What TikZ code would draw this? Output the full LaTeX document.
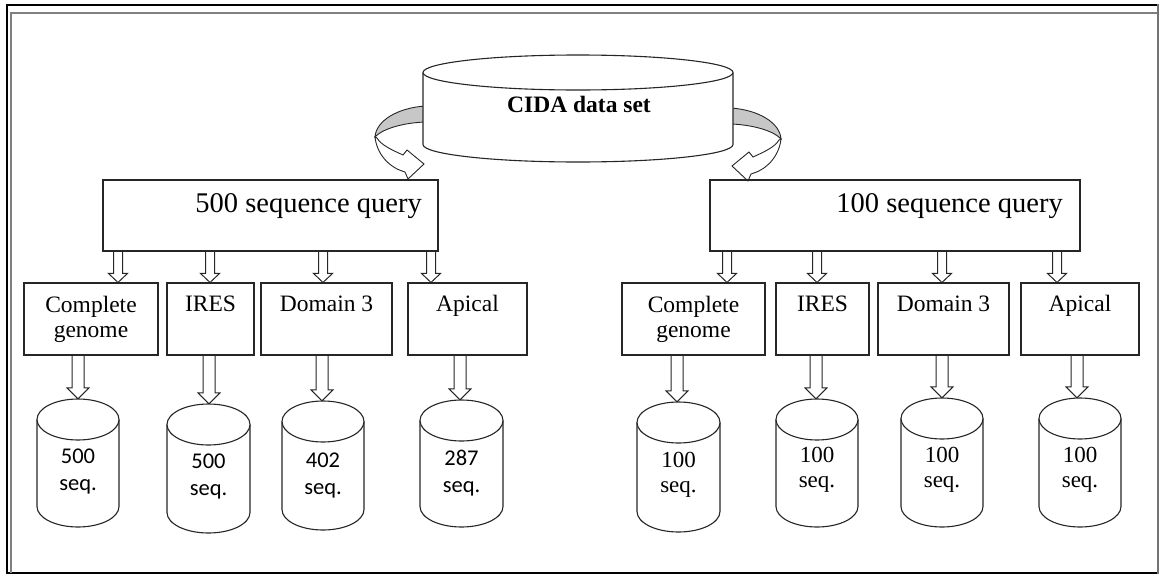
\documentclass[tikz,border=0pt]{standalone}
\usepackage{fontspec}
\setmainfont{Liberation Serif}
\newfontfamily\carlitofont{Carlito}
\usetikzlibrary{calc}
\pgfdeclarelayer{bg}
\pgfsetlayers{bg,main}
\newcommand\drum[6]{% name, cx, ytop, ybot, half width, ry
  \node[inner sep=0pt, minimum width={2*#5pt}, minimum height={#4pt-#3pt}] (#1) at ({#2},{(#3+#4)/2}) {};
  \draw[cylline] ({#2-#5},{#3+#6}) -- ({#2-#5},{#4-#6}) arc[start angle=180,end angle=0,x radius=#5,y radius=#6] -- ({#2+#5},{#3+#6});
  \draw[cylline] ({#2},{#3+#6}) ellipse [x radius=#5, y radius=#6];
}
\newcommand\barrow[6]{% x, from, to, shaft half, head half, head length
  \begin{pgfonlayer}{bg}
  \draw[blk] let \p1=(#1,0 |- #2), \p2=(#1,0 |- #3) in
    (\x1-#4pt,\y1) -- (\x1-#4pt,\y2+#6pt) -- (\x1-#5pt,\y2+#6pt) -- (\x1,\y2)
    -- (\x1+#5pt,\y2+#6pt) -- (\x1+#4pt,\y2+#6pt) -- (\x1+#4pt,\y1);
  \end{pgfonlayer}
}
\begin{document}
\begin{tikzpicture}[x=1pt,y=-1pt,
  box/.style={draw=black!85, line width=1.1pt, rectangle, inner sep=0pt},
  blk/.style={draw=black!85, line width=1pt, fill=white},
  cylline/.style={draw=black!85, line width=1.1pt, fill=white},
  ribbonback/.style={draw=black!85, line width=0.9pt, fill=black!22},
  ribbonfront/.style={draw=black!85, line width=0.9pt, fill=white},
  bigtxt/.style={font=\fontsize{28.5}{30}\selectfont, inner sep=0pt, anchor=base east},
  smalltxt/.style={font=\fontsize{23.5}{25}\selectfont, inner sep=0pt, anchor=base},
  seqsans/.style={font=\carlitofont\fontsize{22.5}{27}\selectfont, inner sep=0pt, anchor=base},
  seqserif/.style={font=\fontsize{23}{25.5}\selectfont, inner sep=0pt, anchor=base},
  toptxt/.style={font=\bfseries\fontsize{23.5}{25}\selectfont, inner sep=0pt, anchor=base}
]
\useasboundingbox (0,0) rectangle (1160,576);

% frame
\draw[line width=2.8pt] (1158,5) -- (7,5) -- (7,573) -- (1158,573);
\draw[black!50, line width=1.3pt] (11,573) -- (11,13) -- (1158,13);
\draw[black!55, line width=1.5pt] (1158,4) -- (1158,574);

% curved arrows from the data set
\draw[ribbonback] (425,106) .. controls (397,108) and (376,121) .. (375,137)
  .. controls (381,130) and (400,123) .. (425,122) -- cycle;
\draw[ribbonfront] (375,137) .. controls (377,155) and (390,168) .. (405,172)
  -- (408,179) -- (424,164) -- (407,150) -- (403,155)
  .. controls (392,150) and (381,145) .. (377,138) -- cycle;
\begin{scope}[shift={(1156,2)}, xscale=-1]
\draw[ribbonback] (425,106) .. controls (397,108) and (376,121) .. (375,137)
  .. controls (381,130) and (400,123) .. (425,122) -- cycle;
\draw[ribbonfront] (375,137) .. controls (377,155) and (390,168) .. (405,172)
  -- (408,179) -- (424,164) -- (407,150) -- (403,155)
  .. controls (392,150) and (381,145) .. (377,138) -- cycle;
\end{scope}

% CIDA data set
\drum{cida}{578}{55}{162}{155}{17.5}
\node[toptxt] (cidatxt) at (579,112) {CIDA data set};

% query boxes
\node[box, minimum width=335pt, minimum height=71pt] (q500) at (270.5,215.5) {};
\node[bigtxt] (q500t) at (422,212) {500 sequence query};
\node[box, minimum width=370pt, minimum height=71pt] (q100) at (895,215.5) {};
\node[bigtxt] (q100t) at (1063,212) {100 sequence query};

% left small boxes
\node[box, minimum width=134pt, minimum height=72pt] (l1) at (91,319) {};
\node[box, minimum width=87pt,  minimum height=72pt] (l2) at (210.5,319) {};
\node[box, minimum width=131pt, minimum height=72pt] (l3) at (326.5,319) {};
\node[box, minimum width=119pt, minimum height=72pt] (l4) at (467.5,319) {};
\node[smalltxt] (l1t) at (91,312) {\begin{tabular}[t]{@{}c@{}}Complete\\genome\end{tabular}};
\node[smalltxt] (l2t) at (210.5,311.5) {IRES};
\node[smalltxt] (l3t) at (326.5,311.5) {Domain 3};
\node[smalltxt] (l4t) at (467.5,311.5) {Apical};

% right small boxes
\node[box, minimum width=143pt, minimum height=72pt] (r1) at (693.5,319) {};
\node[box, minimum width=93pt,  minimum height=72pt] (r2) at (822.5,319) {};
\node[box, minimum width=131pt, minimum height=72pt] (r3) at (943.5,319) {};
\node[box, minimum width=118pt, minimum height=72pt] (r4) at (1080,319) {};
\node[smalltxt] (r1t) at (693.5,312) {\begin{tabular}[t]{@{}c@{}}Complete\\genome\end{tabular}};
\node[smalltxt] (r2t) at (822.5,311.5) {IRES};
\node[smalltxt] (r3t) at (943.5,311.5) {Domain 3};
\node[smalltxt] (r4t) at (1080,311.5) {Apical};

% cylinders
\drum{c1}{78}{399}{527}{41}{20.5}
\drum{c2}{208.5}{404}{533}{41.5}{20.5}
\drum{c3}{323}{401}{530}{41}{20.5}
\drum{c4}{461.5}{400}{527}{41.5}{20.5}
\drum{d1}{678.5}{402}{532}{41.5}{20.5}
\drum{d2}{817}{399}{527}{41}{20.5}
\drum{d3}{942}{398}{527}{41}{20.5}
\drum{d4}{1080}{398}{527}{41}{20.5}

\node[seqsans] (c1t) at (78,463) {\begin{tabular}[t]{@{}c@{}}500\\seq.\end{tabular}};
\node[seqsans] (c2t) at (208.5,468) {\begin{tabular}[t]{@{}c@{}}500\\seq.\end{tabular}};
\node[seqsans] (c3t) at (323,467) {\begin{tabular}[t]{@{}c@{}}402\\seq.\end{tabular}};
\node[seqsans] (c4t) at (461.5,465) {\begin{tabular}[t]{@{}c@{}}287\\seq.\end{tabular}};
\node[seqserif] (d1t) at (678.5,467) {\begin{tabular}[t]{@{}c@{}}100\\seq.\end{tabular}};
\node[seqserif] (d2t) at (817,462) {\begin{tabular}[t]{@{}c@{}}100\\seq.\end{tabular}};
\node[seqserif] (d3t) at (942,462) {\begin{tabular}[t]{@{}c@{}}100\\seq.\end{tabular}};
\node[seqserif] (d4t) at (1080,462) {\begin{tabular}[t]{@{}c@{}}100\\seq.\end{tabular}};

% block arrows: query -> categories
\barrow{118}{q500.south}{l1.north}{4.5}{9.5}{9}
\barrow{210}{q500.south}{l2.north}{4.5}{9.5}{9}
\barrow{323}{q500.south}{l3.north}{4.5}{9.5}{9}
\barrow{431}{q500.south}{l4.north}{4.5}{9.5}{9}
\barrow{727}{q100.south}{r1.north}{4.5}{9.5}{9}
\barrow{817}{q100.south}{r2.north}{4.5}{9.5}{9}
\barrow{942}{q100.south}{r3.north}{4.5}{9.5}{9}
\barrow{1057}{q100.south}{r4.north}{4.5}{9.5}{9}

% block arrows: categories -> cylinders
\barrow{78}{l1.south}{c1.north}{6}{11}{11}
\barrow{209}{l2.south}{c2.north}{6}{11}{11}
\barrow{322}{l3.south}{c3.north}{6}{11}{11}
\barrow{460}{l4.south}{c4.north}{6}{11}{11}
\barrow{677}{r1.south}{d1.north}{6}{11}{11}
\barrow{816}{r2.south}{d2.north}{6}{11}{11}
\barrow{942}{r3.south}{d3.north}{6}{11}{11}
\barrow{1077}{r4.south}{d4.north}{6}{11}{11}
\end{tikzpicture}
\end{document}
